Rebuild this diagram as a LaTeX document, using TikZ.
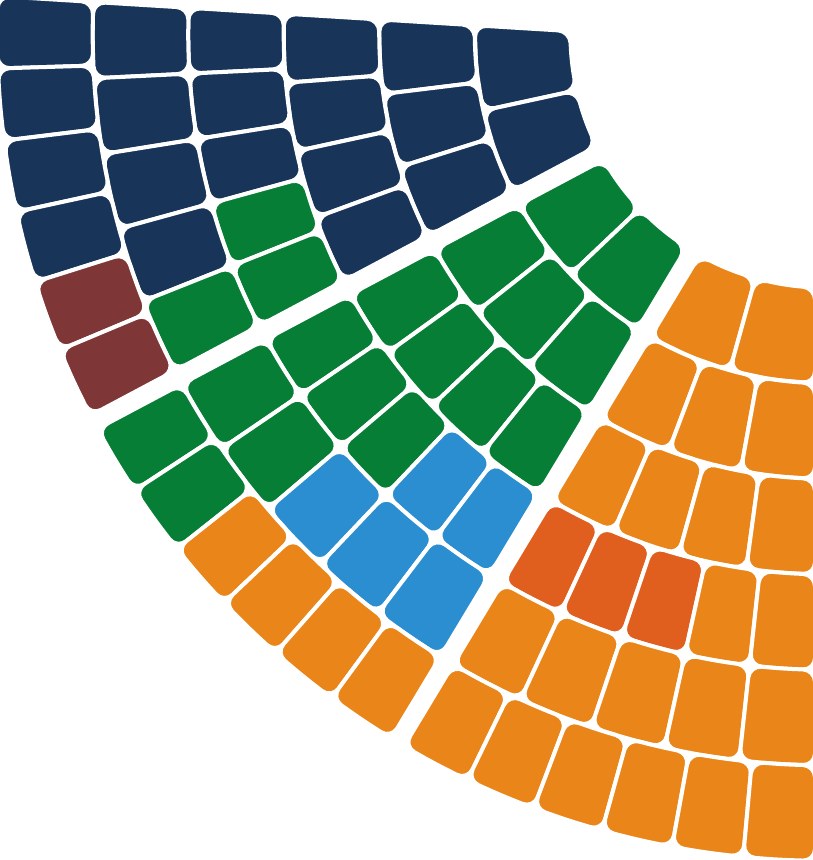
\documentclass[tikz,border=0pt]{standalone}
\definecolor{nav}{RGB}{24,53,89}
\definecolor{grn}{RGB}{7,126,54}
\definecolor{mar}{RGB}{126,55,54}
\definecolor{blu}{RGB}{42,142,208}
\definecolor{org}{RGB}{234,134,25}
\definecolor{dor}{RGB}{224,95,30}

\begin{document}
\begin{tikzpicture}[x=1pt,y=1pt,seat/.style={draw=white,line width=4pt,rounded corners=12pt}]
  \useasboundingbox (0,0) rectangle (813,-860);
  \def\lang{{176.5,208,238.95,270}}
  \def\loff{{12.6,7.5,7.5,9}}
  \begin{scope}[shift={(824,-34)}]
  \foreach \k/\n/\cols in {1/2/{nav,nav, grn,grn, org,org},
      2/3/{nav,nav,nav, grn,grn,grn, org,org,org},
      3/4/{nav,nav,nav,nav, grn,grn,grn,grn, org,org,org,org},
      4/5/{nav,nav,nav,grn,grn, grn,grn,grn,blu,blu, dor,dor,dor,org,org},
      5/5/{nav,nav,nav,nav,grn, grn,grn,blu,blu,blu, org,org,org,org,org},
      6/6/{nav,nav,nav,nav,mar,mar, grn,grn,org,org,org,org, org,org,org,org,org,org}}{
    \pgfmathsetmacro{\ra}{254+95.5*(\k-1)}
    \pgfmathsetmacro{\rb}{\ra+95.5}
    \foreach \c [count=\i] in \cols {
      \pgfmathtruncatemacro{\s}{(\i-1)/\n}
      \pgfmathtruncatemacro{\t}{\s+1}
      \pgfmathtruncatemacro{\j}{\i-1-\s*\n}
      \pgfmathsetmacro{\ua}{\lang[\s]+asin(\loff[\s]/\ra)}
      \pgfmathsetmacro{\ub}{\lang[\t]-asin(\loff[\t]/\ra)}
      \pgfmathsetmacro{\va}{\lang[\s]+asin(\loff[\s]/\rb)}
      \pgfmathsetmacro{\vb}{\lang[\t]-asin(\loff[\t]/\rb)}
      \pgfmathsetmacro{\pa}{\ua+\j*(\ub-\ua)/\n}
      \pgfmathsetmacro{\pb}{\ua+(\j+1)*(\ub-\ua)/\n}
      \pgfmathsetmacro{\qa}{\va+\j*(\vb-\va)/\n}
      \pgfmathsetmacro{\qb}{\va+(\j+1)*(\vb-\va)/\n}
      \filldraw[seat,fill=\c] (\pa:\ra) -- ({(\pa+\pb)/2}:\ra) -- (\pb:\ra)
        -- (\qb:\rb) -- ({(\qa+\qb)/2}:\rb) -- (\qa:\rb) -- cycle;
    }
  }
  \end{scope}
\end{tikzpicture}
\end{document}
